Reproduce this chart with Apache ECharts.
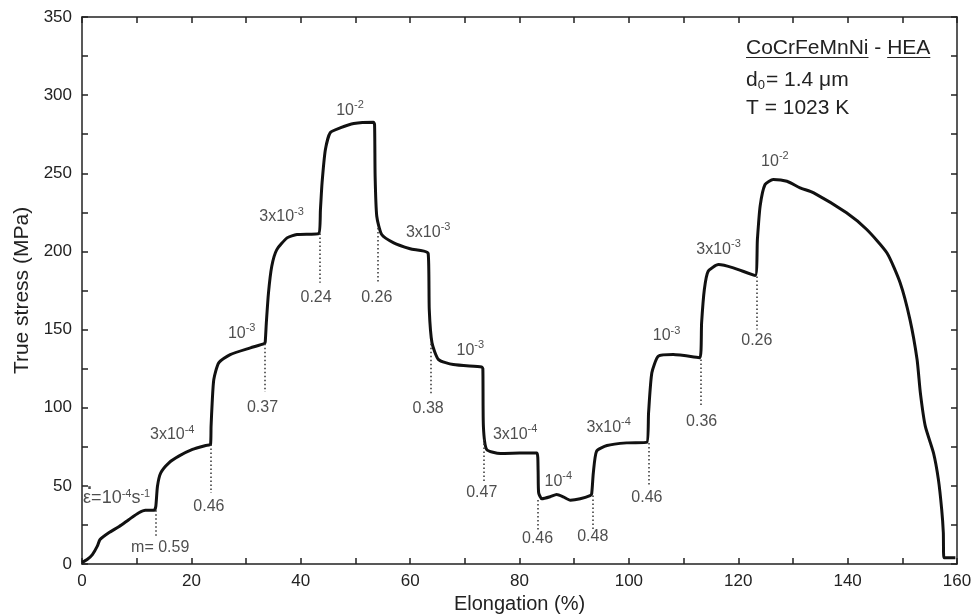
<!DOCTYPE html>
<html>
<head>
<meta charset="utf-8">
<script src="https://cdn.jsdelivr.net/npm/echarts@6/dist/echarts.min.js"></script>
<style>
  html, body { margin: 0; padding: 0; background: #fff; }
  #chart { width: 973px; height: 614px; }
</style>
</head>
<body>
<div id="chart"></div>
<script>
// elongation (%) and true stress (MPa)
const elongation = [0, 1.0, 1.9, 2.8, 3.3, 4.9, 6.8, 8.6, 10.4, 11.6, 13.2, 13.5, 13.8, 14.4, 15.9, 17.7, 20.2, 22.6, 23.5, 23.6,
  23.8, 24.1, 25, 27.1, 30.8, 33.3, 33.5, 33.7, 34.1, 34.7, 35.6, 37.5, 39.3, 43.3, 43.6, 43.9, 44.5, 45.4, 47.2, 49.7,
  53.3, 53.5, 53.6, 53.9, 54.8, 57, 60, 63.3, 63.5, 64, 65.2, 67.9, 73.1, 73.3, 73.4, 74, 76.5, 80, 83.2, 83.4,
  83.5, 84.1, 85.6, 86.8, 88, 89.3, 91.1, 92.9, 93.2, 93.5, 94.1, 96, 99.6, 103.3, 103.6, 104.2, 105.4, 108.1, 113, 113.3,
  113.8, 114.5, 116.4, 119.1, 123.1, 123.5, 124, 124.9, 126.4, 128.9, 131.3, 133.8, 139.8, 143.5, 147.2, 149.6, 151.4, 152.7, 153.3, 154.2,
  155.7, 156.6, 157.2, 157.5, 157.6, 159.7];
const stress = [1, 3, 6, 11.4, 15.7, 20, 24, 28.5, 32.8, 34.4, 34.4, 37, 49.8, 58.3, 64.7, 69, 73.3, 75.8, 76.5, 88,
  103, 118, 128.7, 134, 138.3, 141, 142, 154, 173.5, 190.5, 201, 208.7, 210.8, 211.5, 226.8, 244, 265, 276, 279, 281.8,
  282.6, 281, 248, 222.5, 210.8, 205.5, 201.7, 198.7, 162.8, 141.5, 130.8, 127.6, 126, 125, 88, 73.3, 70.7, 71, 71.1, 60,
  45.6, 41.7, 43, 44.5, 43, 40.8, 41.7, 43.8, 45, 58.3, 72.2, 75.8, 77.5, 77.9, 96.7, 122.3, 133, 134, 132, 154.3,
  175.6, 187.3, 191.6, 189.5, 184.6, 207.6, 229, 242.8, 246, 244.9, 240.7, 237.5, 224.7, 214, 199, 180, 156.4, 130.8, 109.5, 88.2,
  71.1, 54, 34.9, 20, 4, 4];

// dotted drop lines at each rate change and their m values
const dropX = [13.5, 23.6, 33.5, 43.4, 54.0, 63.7, 73.4, 83.3, 93.4, 103.6, 113.2, 123.3];
const dropTop = [34.4, 76.5, 141, 211.5, 215, 141, 79.6, 41, 43.8, 77.5, 130.8, 184];
const dropBottom = [17.8, 45.5, 110, 180, 180, 108.5, 53, 22, 22, 50.9, 101, 150];
const mText = ['m= 0.59', '0.46', '0.37', '0.24', '0.26', '0.38', '0.47', '0.46', '0.48', '0.46', '0.36', '0.26'];
const mX = [14.3, 23.2, 33.0, 42.8, 53.9, 63.3, 73.1, 83.3, 93.4, 103.3, 113.3, 123.4];
const mY = [10.6, 36.8, 100.1, 170.3, 170.3, 99.6, 45.6, 16.1, 17.4, 42.7, 91.4, 143.2];

// strain rate labels
const rateText = ['{b|3x10}{s|-4}', '{b|10}{s|-3}', '{b|3x10}{s|-3}', '{b|10}{s|-2}', '{b|3x10}{s|-3}', '{b|10}{s|-3}', '{b|3x10}{s|-4}',
  '{b|10}{s|-4}', '{b|3x10}{s|-4}', '{b|10}{s|-3}', '{b|3x10}{s|-3}', '{b|10}{s|-2}'];
const rateX = [16.5, 29.2, 36.5, 49, 63.3, 71, 79.2, 87.1, 96.3, 106.9, 116.4, 126.7];
const rateY = [83.5, 148.3, 223, 291.2, 213, 137.7, 84, 54, 88.2, 146.8, 202.3, 258.4];
const firstRate = '{b|\u03b5=10}{s|-4}{b|s}{s|-1}';

const FONT = '"Liberation Sans", Arial, sans-serif';
const INK = '#222';

const chart = echarts.init(document.getElementById('chart'));

function supRich(size) {
    return {
        b: { fontSize: size, fontFamily: FONT, color: INK, lineHeight: 19, verticalAlign: 'bottom' },
        s: { fontSize: 11, fontFamily: FONT, color: INK, lineHeight: 10, verticalAlign: 'top' },
        d: { fontSize: 18, fontFamily: FONT, color: INK, fontWeight: 'bold' }
    };
}

const axisCommon = {
    type: 'value',
    axisLine: { show: true, onZero: false, lineStyle: { color: INK, width: 1.5 } },
    axisTick: { show: true, inside: true, length: 6, lineStyle: { color: INK, width: 1.5 } },
    minorTick: { show: true, splitNumber: 2, length: 6, lineStyle: { color: INK, width: 1.5 } },
    splitLine: { show: false },
};

const curve = elongation.map((x, i) => [x, stress[i]]);

const option = {
    animation: false,
    backgroundColor: '#fff',
    grid: { left: 82, right: 16, top: 17, bottom: 50, outerBoundsMode: 'none' },
    xAxis: [
        Object.assign({}, axisCommon, {
            min: 0, max: 160, interval: 20,
            name: 'Elongation (%)', nameLocation: 'middle', nameGap: 28,
            nameTextStyle: { fontSize: 20, fontFamily: FONT, color: INK },
            axisLabel: { fontSize: 17, fontFamily: FONT, color: INK, margin: 9 }
        }),
        Object.assign({}, axisCommon, {
            position: 'top', min: 0, max: 160, interval: 20,
            axisLabel: { show: false }
        })
    ],
    yAxis: [
        Object.assign({}, axisCommon, {
            min: 0, max: 350, interval: 50,
            name: 'True stress (MPa)', nameLocation: 'middle', nameGap: 49,
            nameTextStyle: { fontSize: 21, fontFamily: FONT, color: INK },
            axisLabel: { fontSize: 17, fontFamily: FONT, color: INK, margin: 10 }
        }),
        Object.assign({}, axisCommon, {
            position: 'right', min: 0, max: 350, interval: 50,
            axisLabel: { show: false }
        })
    ],
    series: [
        {
            type: 'line',
            data: curve,
            showSymbol: false,
            symbol: 'none',
            smooth: 0.2,
            lineStyle: { color: '#111', width: 3 },
            markLine: {
                silent: true,
                symbol: 'none',
                label: { show: false },
                lineStyle: { color: '#333', width: 1.5, type: [1.5, 2.5] },
                data: dropX.map((x, i) => [{ coord: [x, dropTop[i]] }, { coord: [x, dropBottom[i]] }])
            }
        },
        {
            type: 'scatter',
            symbolSize: 0,
            silent: true,
            data: mX.map((x, i) => [x, mY[i]]),
            label: {
                show: true, position: 'inside',
                fontSize: 16, fontFamily: FONT, color: INK,
                formatter: p => mText[p.dataIndex]
            }
        },
        {
            type: 'scatter',
            xAxisIndex: 1,
            yAxisIndex: 1,
            symbolSize: 0,
            silent: true,
            data: rateX.map((x, i) => [x, rateY[i]]),
            label: {
                show: true, position: 'inside',
                formatter: p => rateText[p.dataIndex],
                rich: supRich(16)
            }
        },
        {
            // starting rate: epsilon with a rate dot above it
            type: 'scatter',
            symbolSize: 0,
            silent: true,
            data: [[0.2, 42.5], [0.9, 47.8]],
            label: {
                show: true, position: 'right', distance: 0,
                formatter: p => (p.dataIndex === 0 ? firstRate : '{d|\u00b7}'),
                rich: supRich(18)
            }
        }
    ]
};

chart.setOption(option);

// top-right material / condition note, with underlined words
const ctx = document.createElement('canvas').getContext('2d');
const noteFont = '21px ' + FONT;
ctx.font = noteFont;
const w1 = ctx.measureText('CoCrFeMnNi').width;
const w2 = ctx.measureText(' - ').width;
const w3 = ctx.measureText('HEA').width;
const nx = 746;
chart.setOption({
    graphic: [
        { type: 'text', x: nx, y: 48, style: { text: 'CoCrFeMnNi', font: noteFont, fill: INK, textVerticalAlign: 'middle' } },
        { type: 'text', x: nx + w1, y: 48, style: { text: ' - ', font: noteFont, fill: INK, textVerticalAlign: 'middle' } },
        { type: 'text', x: nx + w1 + w2, y: 48, style: { text: 'HEA', font: noteFont, fill: INK, textVerticalAlign: 'middle' } },
        { type: 'line', shape: { x1: nx, y1: 57.5, x2: nx + w1, y2: 57.5 }, style: { stroke: INK, lineWidth: 1 } },
        { type: 'line', shape: { x1: nx + w1 + w2, y1: 57.5, x2: nx + w1 + w2 + w3, y2: 57.5 }, style: { stroke: INK, lineWidth: 1 } },
        {
            type: 'text', x: nx, y: 80,
            style: {
                text: 'd{sub|0}= 1.4 \u03bcm', font: noteFont, fill: INK, textVerticalAlign: 'middle',
                rich: { sub: { fontSize: 13, fontFamily: FONT, color: INK, verticalAlign: 'bottom', padding: [10, 1, 0, 0] } }
            }
        },
        { type: 'text', x: nx, y: 108, style: { text: 'T = 1023 K', font: noteFont, fill: INK, textVerticalAlign: 'middle' } }
    ]
});
</script>
</body>
</html>
